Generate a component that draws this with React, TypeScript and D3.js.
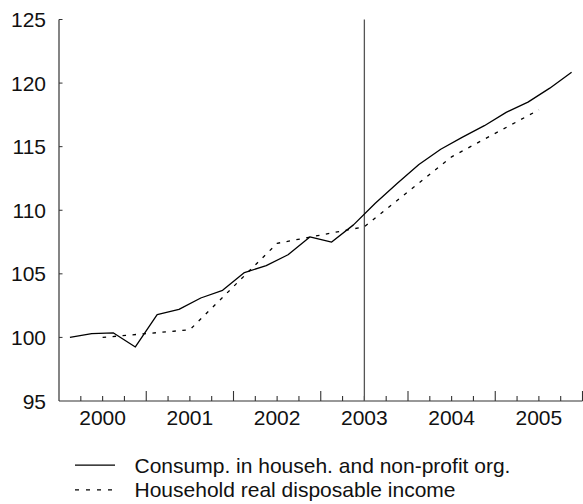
import * as d3 from 'd3';
import { useEffect, useRef } from 'react';

// quarterly consumption index, 2000Q1 .. 2005Q4
const startYear = 2000;
const consumption = [
  100.0, 100.3, 100.35, 99.25,
  101.8, 102.2, 103.1, 103.7,
  105.1, 105.65, 106.5, 107.9,
  107.5, 108.85, 110.55, 112.1,
  113.6, 114.8, 115.75, 116.65,
  117.7, 118.5, 119.6, 120.85,
];

// annual disposable income, plotted at mid-year
const incomeYears = [2000, 2001, 2002, 2003, 2004, 2005];
const income = [100.0, 100.6, 107.4, 108.7, 114.2, 117.9];

const yearLabels = ['2000', '2001', '2002', '2003', '2004', '2005'];
const yTicks = [95, 100, 105, 110, 115, 120, 125];
const markerYear = 2003.5;

const legendLabels = [
  'Consump. in househ. and non-profit org.',
  'Household real disposable income',
];

export default function App() {
  const svgRef = useRef<SVGSVGElement | null>(null);

  useEffect(() => {
    if (!svgRef.current) return;
    const svg = d3.select(svgRef.current);
    svg.selectAll('*').remove();

    const font = 'Liberation Sans, Arial, sans-serif';
    const x = d3.scaleLinear().domain([2000, 2006]).range([59, 582.5]);
    const y = d3.scaleLinear().domain([95, 125]).range([401, 19.5]);
    const axisColor = '#333';

    // y axis
    svg.append('line')
      .attr('x1', x(2000)).attr('x2', x(2000))
      .attr('y1', y(125)).attr('y2', y(95))
      .attr('stroke', axisColor).attr('stroke-width', 1.2);

    svg.append('g')
      .selectAll('line')
      .data(yTicks.filter(t => t > 95))
      .join('line')
      .attr('x1', x(2000)).attr('x2', x(2000) + 3.5)
      .attr('y1', d => y(d)).attr('y2', d => y(d))
      .attr('stroke', axisColor).attr('stroke-width', 1);

    svg.append('g')
      .selectAll('text')
      .data(yTicks)
      .join('text')
      .attr('x', 46)
      .attr('y', d => y(d))
      .attr('dy', '0.36em')
      .attr('text-anchor', 'end')
      .attr('font-family', font)
      .attr('font-size', 21)
      .attr('fill', '#111')
      .text(d => d);

    // x axis
    svg.append('line')
      .attr('x1', x(2000)).attr('x2', x(2006))
      .attr('y1', y(95)).attr('y2', y(95))
      .attr('stroke', axisColor).attr('stroke-width', 1.2);

    const quarterTicks = d3.range(1, 25).map(i => 2000 + i / 4);
    svg.append('g')
      .selectAll('line')
      .data(quarterTicks)
      .join('line')
      .attr('x1', d => x(d)).attr('x2', d => x(d))
      .attr('y1', y(95))
      .attr('y2', (d, i) => ((i + 1) % 4 === 0 ? y(95) - 10 : y(95) - 5))
      .attr('stroke', axisColor).attr('stroke-width', 1.1);

    svg.append('g')
      .selectAll('text')
      .data(yearLabels)
      .join('text')
      .attr('x', d => x(+d + 0.5))
      .attr('y', 424.5)
      .attr('text-anchor', 'middle')
      .attr('font-family', font)
      .attr('font-size', 21)
      .attr('fill', '#111')
      .text(d => d);

    // vertical marker
    svg.append('line')
      .attr('x1', x(markerYear)).attr('x2', x(markerYear))
      .attr('y1', y(125)).attr('y2', y(95))
      .attr('stroke', '#555').attr('stroke-width', 1.3);

    // series
    const consData = consumption.map((v, i) => ({ t: startYear + (i + 0.5) / 4, v }));
    const incData = income.map((v, i) => ({ t: incomeYears[i] + 0.5, v }));

    const line = d3.line<{ t: number; v: number }>()
      .x(d => x(d.t))
      .y(d => y(d.v));

    svg.append('path')
      .datum(incData)
      .attr('d', line)
      .attr('fill', 'none')
      .attr('stroke', '#000')
      .attr('stroke-width', 1.3)
      .attr('stroke-dasharray', '3.5,6.5');

    svg.append('path')
      .datum(consData)
      .attr('d', line)
      .attr('fill', 'none')
      .attr('stroke', '#000')
      .attr('stroke-width', 1.3)
      .attr('stroke-linejoin', 'round');

    // legend
    const legend = svg.append('g');
    legendLabels.forEach((label, i) => {
      const base = 472.6 + i * 24.7;
      const ly = base - 7.5;
      legend.append('line')
        .attr('x1', 75).attr('x2', 115)
        .attr('y1', ly).attr('y2', ly)
        .attr('stroke', '#000')
        .attr('stroke-width', 1.2)
        .attr('stroke-dasharray', i === 1 ? '4,7' : null);
      legend.append('text')
        .attr('x', 134.5)
        .attr('y', base)
        .attr('font-family', font)
        .attr('font-size', 21)
        .attr('fill', '#111')
        .text(label);
    });
  }, []);

  return (
    <svg
      ref={svgRef}
      width={583}
      height={504}
      style={{ position: 'absolute', left: 0, top: 0, background: '#fff' }}
    />
  );
}
